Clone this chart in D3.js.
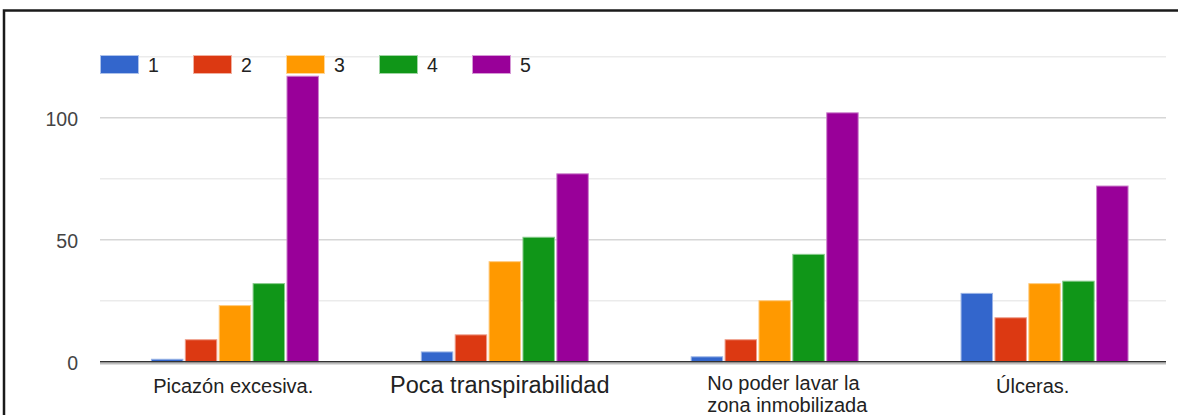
<!DOCTYPE html>
<html>
<head>
<meta charset="utf-8">
<script src="https://cdn.jsdelivr.net/npm/d3@7"></script>
<style>
  html, body { margin: 0; padding: 0; background: #fff; overflow: hidden; }
  text { font-family: "Liberation Sans", Arial, sans-serif; }
</style>
</head>
<body>
<svg id="chart" width="1178" height="415"></svg>
<script>
// Categories (multi-line labels split into lines)
const categories = [
  ["Picazón excesiva."],
  ["Poca transpirabilidad"],
  ["No poder lavar la", "zona inmobilizada"],
  ["Úlceras."]
];
const categoryFontSizes = [20, 23.5, 20, 20];

// Rating series 1..5
const seriesNames = ["1", "2", "3", "4", "5"];
const seriesColors = ["#3366cc", "#dc3912", "#ff9900", "#109618", "#990099"];

// Responses per category for each rating
const values1 = [1, 4, 2, 28];
const values2 = [9, 11, 9, 18];
const values3 = [23, 41, 25, 32];
const values4 = [32, 51, 44, 33];
const values5 = [117, 77, 102, 72];
const seriesValues = [values1, values2, values3, values4, values5];

// Axis ticks
const yLabelTicks = [0, 50, 100];
const yGridTicks = [25, 75, 125];
const yDomain = [0, 125];

const svg = d3.select("#chart");

const plotLeft = 100, plotRight = 1166, plotBottom = 361.7;

const y = d3.scaleLinear().domain(yDomain).range([plotBottom, plotBottom - 125 * 2.44]);
// Bar groups are spread over the full band area; labels follow the gridded area
const x = d3.scaleBand().domain(d3.range(categories.length)).range([plotLeft, 1179.5]);
const xLabel = d3.scaleBand().domain(d3.range(categories.length)).range([plotLeft, plotRight]);
const groupWidth = 168;
const xs = d3.scaleBand().domain(seriesNames).range([-groupWidth / 2, groupWidth / 2]).paddingInner(0.042);

// Frame lines (top and left)
svg.append("path")
  .attr("d", "M4,415 L4,10.5 L1178,10.5")
  .attr("fill", "none")
  .attr("stroke", "#1a1a1a")
  .attr("stroke-width", 2.5);

// Gridlines: minor and major
svg.append("g").selectAll("line").data(yGridTicks).join("line")
  .attr("x1", plotLeft).attr("x2", plotRight)
  .attr("y1", d => y(d)).attr("y2", d => y(d))
  .attr("stroke", "#ebebeb").attr("stroke-width", 1.5);

svg.append("g").selectAll("line").data(yLabelTicks.filter(d => d !== 0)).join("line")
  .attr("x1", plotLeft).attr("x2", plotRight)
  .attr("y1", d => y(d)).attr("y2", d => y(d))
  .attr("stroke", "#d6d6d6").attr("stroke-width", 1.5);

// Y tick labels
svg.append("g").selectAll("text").data(yLabelTicks).join("text")
  .attr("x", 78).attr("y", d => y(d) + 8.5)
  .attr("text-anchor", "end")
  .attr("font-size", 19.5)
  .attr("fill", "#444")
  .text(d => d);

// Bars
const groups = svg.append("g").selectAll("g").data(categories).join("g")
  .attr("transform", (d, i) => `translate(${x(i) + x.bandwidth() / 2},0)`);

groups.selectAll("rect")
  .data((d, i) => seriesNames.map((s, k) => ({ s, k, v: seriesValues[k][i] })))
  .join("rect")
  .attr("x", d => xs(d.s) + 0.5)
  .attr("width", xs.bandwidth() - 1)
  .attr("y", d => y(d.v))
  .attr("height", d => Math.max(0, y(0) - y(d.v)))
  .attr("fill", d => seriesColors[d.k])
  .attr("stroke", d => d3.interpolateRgb(seriesColors[d.k], "#fff")(0.5))
  .attr("stroke-width", 1);

// Baseline
svg.append("line")
  .attr("x1", plotLeft).attr("x2", plotRight)
  .attr("y1", y(0) + 2).attr("y2", y(0) + 2)
  .attr("stroke", "#bdbdbd").attr("stroke-width", 1.5);
svg.append("line")
  .attr("x1", plotLeft).attr("x2", plotRight)
  .attr("y1", y(0)).attr("y2", y(0))
  .attr("stroke", "#333").attr("stroke-width", 1.6);

// Category labels; wrapped labels are set as a left-aligned block
const wrapIndent = -59;
const labels = svg.append("g").selectAll("text").data(categories).join("text")
  .attr("text-anchor", d => d.length > 1 ? "start" : "middle")
  .attr("font-size", (d, i) => categoryFontSizes[i])
  .attr("fill", "#222");
labels.each(function (lines, i) {
  const cx = xLabel(i) + xLabel.bandwidth() / 2;
  const wrapped = lines.length > 1;
  const startY = wrapped ? 389.5 : 393;
  d3.select(this).selectAll("tspan").data(lines).join("tspan")
    .attr("x", wrapped ? cx + wrapIndent : cx)
    .attr("y", (d, j) => startY + j * 22)
    .text(d => d);
});

// Legend
const legend = svg.append("g").selectAll("g").data(seriesNames).join("g")
  .attr("transform", (d, i) => `translate(${100 + i * 93},55)`);
legend.append("rect")
  .attr("x", 0.5).attr("y", 0.5)
  .attr("width", 38).attr("height", 18)
  .attr("fill", (d, i) => seriesColors[i])
  .attr("stroke", (d, i) => d3.interpolateRgb(seriesColors[i], "#fff")(0.6))
  .attr("stroke-width", 1);
legend.append("text")
  .attr("x", 48).attr("y", 16.5)
  .attr("font-size", 19.5)
  .attr("fill", "#222")
  .text(d => d);
</script>
</body>
</html>
